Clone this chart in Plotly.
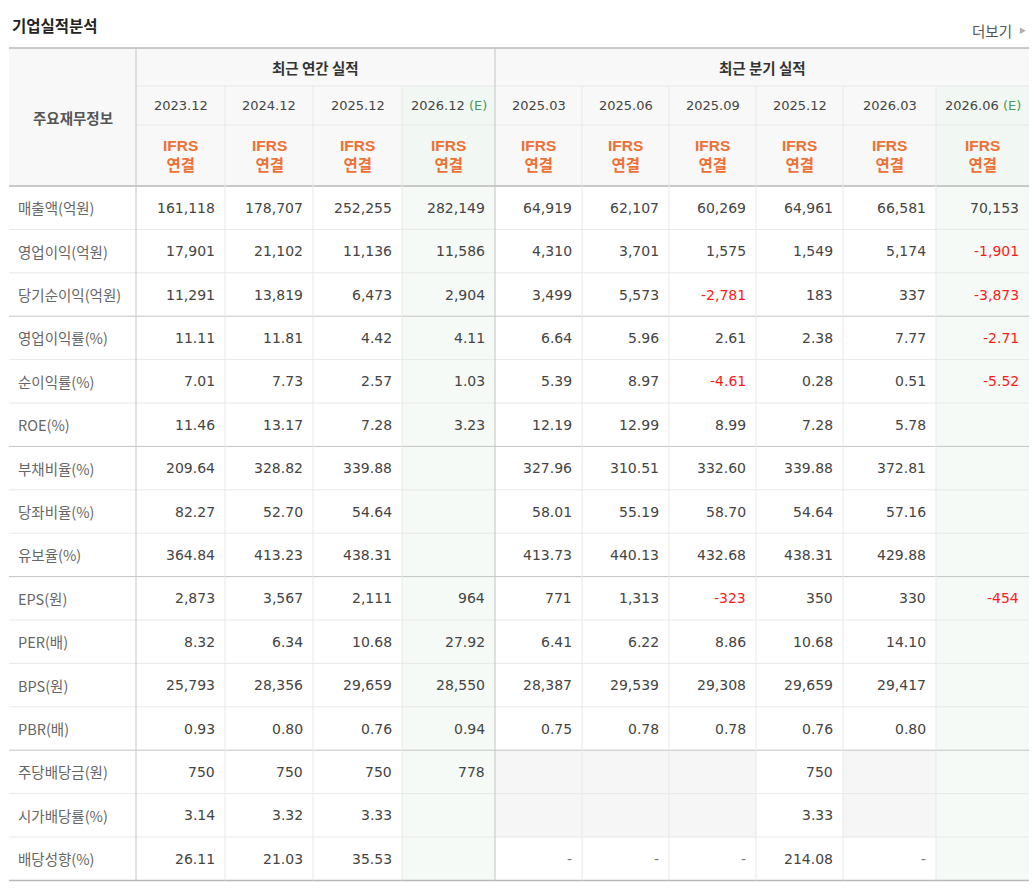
import plotly.graph_objects as go

# ---- data ----
title_text = "기업실적분석"
more_text = "더보기"
corner_label = "주요재무정보"
group_names = ["최근 연간 실적", "최근 분기 실적"]
group_sizes = [4, 6]
periods = ["2023.12", "2024.12", "2025.12", "2026.12", "2025.03",
           "2025.06", "2025.09", "2025.12", "2026.03", "2026.06"]
is_estimate = [False, False, False, True, False, False, False, False, False, True]
standard = "IFRS<br>연결"

row_labels = ["매출액(억원)", "영업이익(억원)", "당기순이익(억원)", "영업이익률(%)",
              "순이익률(%)", "ROE(%)", "부채비율(%)", "당좌비율(%)", "유보율(%)",
              "EPS(원)", "PER(배)", "BPS(원)", "PBR(배)", "주당배당금(원)",
              "시가배당률(%)", "배당성향(%)"]

sales = [161118, 178707, 252255, 282149, 64919, 62107, 60269, 64961, 66581, 70153]
op_income = [17901, 21102, 11136, 11586, 4310, 3701, 1575, 1549, 5174, -1901]
net_income = [11291, 13819, 6473, 2904, 3499, 5573, -2781, 183, 337, -3873]
op_margin = [11.11, 11.81, 4.42, 4.11, 6.64, 5.96, 2.61, 2.38, 7.77, -2.71]
net_margin = [7.01, 7.73, 2.57, 1.03, 5.39, 8.97, -4.61, 0.28, 0.51, -5.52]
roe = [11.46, 13.17, 7.28, 3.23, 12.19, 12.99, 8.99, 7.28, 5.78, None]
debt_ratio = [209.64, 328.82, 339.88, None, 327.96, 310.51, 332.60, 339.88, 372.81, None]
quick_ratio = [82.27, 52.70, 54.64, None, 58.01, 55.19, 58.70, 54.64, 57.16, None]
reserve_ratio = [364.84, 413.23, 438.31, None, 413.73, 440.13, 432.68, 438.31, 429.88, None]
eps = [2873, 3567, 2111, 964, 771, 1313, -323, 350, 330, -454]
per = [8.32, 6.34, 10.68, 27.92, 6.41, 6.22, 8.86, 10.68, 14.10, None]
bps = [25793, 28356, 29659, 28550, 28387, 29539, 29308, 29659, 29417, None]
pbr = [0.93, 0.80, 0.76, 0.94, 0.75, 0.78, 0.78, 0.76, 0.80, None]
dps = [750, 750, 750, 778, None, None, None, 750, None, None]
div_yield = [3.14, 3.32, 3.33, None, None, None, None, 3.33, None, None]
payout = [26.11, 21.03, 35.53, None, "-", "-", "-", 214.08, "-", None]

row_values = [sales, op_income, net_income, op_margin, net_margin, roe,
              debt_ratio, quick_ratio, reserve_ratio, eps, per, bps, pbr,
              dps, div_yield, payout]
group_end_rows = [2, 5, 8, 12]      # thicker line below these rows
no_data_rows = [13, 14]             # blank quarterly cells are shaded

# ---- geometry / style ----
W, H = 1036, 888
col_edges = [9, 136, 225, 313, 402, 495, 582, 669, 756, 843, 936, 1029]
y_top, y_h1, y_h2, y_body = 48, 86, 125, 186
row_h = 43.4

KR = "Noto Sans CJK KR"
NUM = "DejaVu Sans, Noto Sans CJK KR"
HEAD_BG = "#f8f8f8"
EST_HEAD_BG = "#f1f7f2"
EST_BG = "#f5faf6"
GRAY_BG = "#f6f6f6"
LIGHT = "#e8e8e8"
DARK = "#c4c4c4"
ORANGE = "#ee7035"
RED = "#ff1a1a"


def fmt(label, v):
    if v is None:
        return ""
    if isinstance(v, str):
        return v
    if label.endswith("(억원)") or label.endswith("(원)"):
        return f"{v:,.0f}"
    return f"{v:,.2f}"


shapes = []
annotations = []


def rect(x0, y0, x1, y1, color):
    shapes.append(dict(type="rect", xref="x", yref="y", x0=x0, y0=y0, x1=x1, y1=y1,
                       fillcolor=color, line=dict(width=0), layer="below"))


def line(x0, y0, x1, y1, color, width=1):
    shapes.append(dict(type="line", xref="x", yref="y", x0=x0, y0=y0, x1=x1, y1=y1,
                       line=dict(color=color, width=width)))


def text(x, y, s, size, color, family=KR, anchor="center", weight="normal"):
    annotations.append(dict(x=x, y=y, xref="x", yref="y", text=s, showarrow=False,
                            xanchor=anchor, yanchor="middle",
                            font=dict(family=family, size=size, color=color, weight=weight)))


n_rows = len(row_labels)
y_bottom = y_body + n_rows * row_h
left, right = col_edges[0], col_edges[-1]

# backgrounds
rect(left, y_top, right, y_body, HEAD_BG)
for j, est in enumerate(is_estimate):
    x0, x1 = col_edges[j + 1], col_edges[j + 2]
    if est:
        rect(x0, y_h1, x1, y_body, EST_HEAD_BG)
        rect(x0, y_body, x1, y_bottom, EST_BG)
for i in no_data_rows:
    for j, v in enumerate(row_values[i]):
        if v is None and not is_estimate[j] and j >= group_sizes[0]:
            rect(col_edges[j + 1], y_body + i * row_h,
                 col_edges[j + 2], y_body + (i + 1) * row_h, GRAY_BG)

# horizontal lines
line(col_edges[1], y_h1, right, y_h1, LIGHT)
line(col_edges[1], y_h2, right, y_h2, LIGHT)
for i in range(1, n_rows):
    y = y_body + i * row_h
    line(left, y, right, y, DARK if (i - 1) in group_end_rows else LIGHT)
line(left, y_top, right, y_top, "#b8b8b8", 1.5)
line(left, y_body, right, y_body, "#b8b8b8", 1.5)
line(left, y_bottom, right, y_bottom, "#b8b8b8", 1.5)

# vertical lines
split = col_edges[1 + group_sizes[0]]
for x in col_edges[1:-1]:
    if x in (col_edges[1], split):
        line(x, y_top, x, y_bottom, DARK)
    else:
        line(x, y_h1, x, y_bottom, LIGHT)

# title & more link
text(10, 25, title_text, 15.5, "#222", anchor="left", weight="bold")
text(1014, 30, more_text, 14.5, "#555", anchor="right")
text(1022, 30, "▶", 7, "#b0b0b0")

# header texts
text((left + col_edges[1]) / 2, (y_top + y_body) / 2, corner_label, 14.5, "#555", weight="bold")
start = 0
for name, n in zip(group_names, group_sizes):
    x0, x1 = col_edges[1 + start], col_edges[1 + start + n]
    text((x0 + x1) / 2, (y_top + y_h1) / 2, name, 14.5, "#333", weight="bold")
    start += n
for j, p in enumerate(periods):
    xc = (col_edges[j + 1] + col_edges[j + 2]) / 2
    label = p + ("<span style='color:#4a9a5a'> (E)</span>" if is_estimate[j] else "")
    text(xc, (y_h1 + y_h2) / 2, label, 13, "#444", family=NUM)
    text(xc, (y_h2 + y_body) / 2, standard, 15.5, ORANGE,
         family="Liberation Sans, Noto Sans CJK KR", weight="bold")

# body texts
for i, (lab, vals) in enumerate(zip(row_labels, row_values)):
    yc = y_body + (i + 0.5) * row_h
    text(16, yc, lab, 14.5, "#666", anchor="left")
    for j, v in enumerate(vals):
        s = fmt(lab, v)
        if not s:
            continue
        color = RED if (not isinstance(v, str) and v < 0) else ("#777" if s == "-" else "#444")
        text(col_edges[j + 2] - 8, yc, s, 14, color, family=NUM, anchor="right")

fig = go.Figure()
fig.update_layout(
    width=W, height=H,
    margin=dict(l=0, r=0, t=0, b=0),
    paper_bgcolor="white", plot_bgcolor="white",
    xaxis=dict(range=[0, W], visible=False, fixedrange=True),
    yaxis=dict(range=[H, 0], visible=False, fixedrange=True),
    shapes=shapes, annotations=annotations,
    showlegend=False,
)
# the page body has a default 8px margin; drop it so the table sits at the top-left
fig.write_html("out.html", config={"displayModeBar": False},
               post_script="document.body.style.margin='0px';")
